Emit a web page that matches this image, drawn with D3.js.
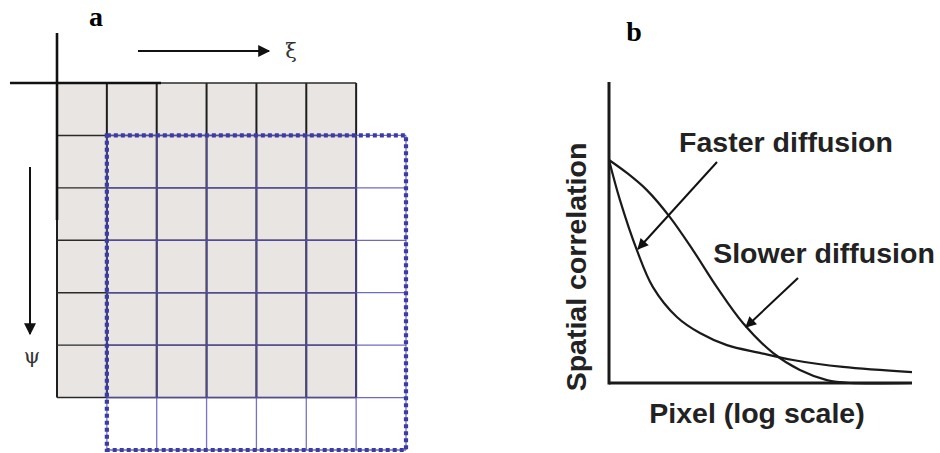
<!DOCTYPE html>
<html>
<head>
<meta charset="utf-8">
<script src="https://cdn.jsdelivr.net/npm/d3@7"></script>
<style>
  html, body { margin: 0; padding: 0; background: #fff; }
  svg { display: block; }
</style>
</head>
<body>
<svg id="fig" width="940" height="453"></svg>
<script>
// Panel a: 6x6 window of pixels and the same window shifted by one pixel in ξ and ψ
const gridCols = [0, 1, 2, 3, 4, 5];
const gridRows = [0, 1, 2, 3, 4, 5];
const shift = { xi: 1, psi: 1 };

// Panel b: spatial correlation versus pixel lag (log scale, normalised axis)
const lagFaster   = [0, 0.036, 0.092, 0.145, 0.224, 0.300, 0.389, 0.498, 0.607, 0.772, 1.0];
const corrFaster  = [1.0, 0.821, 0.596, 0.430, 0.296, 0.224, 0.170, 0.135, 0.103, 0.072, 0.049];
const lagSlower   = [0, 0.059, 0.125, 0.201, 0.277, 0.356, 0.442, 0.541, 0.630, 0.719, 0.795, 1.0];
const corrSlower  = [1.0, 0.942, 0.865, 0.744, 0.596, 0.430, 0.269, 0.135, 0.058, 0.013, 0.0, 0.0];
const curveLabels = ["Faster diffusion", "Slower diffusion"];
const axisTitles  = { x: "Pixel (log scale)", y: "Spatial correlation" };

const svg = d3.select("#fig");

const defs = svg.append("defs");
function arrowMarker(id, w, h) {
  defs.append("marker")
    .attr("id", id).attr("viewBox", "0 0 10 10")
    .attr("refX", 9).attr("refY", 5)
    .attr("markerWidth", w).attr("markerHeight", h)
    .attr("markerUnits", "userSpaceOnUse")
    .attr("orient", "auto")
    .append("path").attr("d", "M0,0 L10,5 L0,10 Z").attr("fill", "#111");
}
arrowMarker("headA", 14, 12);
arrowMarker("headB", 13, 11);

// ---------- Panel a ----------
const gA = svg.append("g");
const cx = d3.scaleLinear().domain([0, 7]).range([57, 406]);
const cy = d3.scaleLinear().domain([0, 7]).range([83, 450]);
const n = gridCols.length;

// shaded pixels
gA.selectAll("rect.cell")
  .data(d3.cross(gridCols, gridRows))
  .join("rect")
  .attr("x", d => cx(d[0])).attr("y", d => cy(d[1]))
  .attr("width", cx(1) - cx(0)).attr("height", cy(1) - cy(0))
  .attr("fill", "#e9e5e2");

// black grid of the original window
const vIdx = d3.range(n + 1), hIdx = d3.range(n + 1);
gA.selectAll("line.bv").data(vIdx).join("line")
  .attr("x1", d => cx(d)).attr("x2", d => cx(d))
  .attr("y1", cy(0)).attr("y2", cy(n))
  .attr("stroke", "#1e1e1e").attr("stroke-width", 2);
gA.selectAll("line.bh").data(hIdx).join("line")
  .attr("y1", d => cy(d)).attr("y2", d => cy(d))
  .attr("x1", cx(0)).attr("x2", cx(n))
  .attr("stroke", "#2a2a2a").attr("stroke-width", 1.4);

// blue grid of the shifted window
gA.selectAll("line.uv").data(vIdx).join("line")
  .attr("x1", d => cx(d + shift.xi)).attr("x2", d => cx(d + shift.xi))
  .attr("y1", cy(shift.psi)).attr("y2", cy(n + shift.psi))
  .attr("stroke", "#5550b8").attr("stroke-width", 1.3).attr("stroke-opacity", 0.8);
gA.selectAll("line.uh").data(hIdx).join("line")
  .attr("y1", d => cy(d + shift.psi)).attr("y2", d => cy(d + shift.psi))
  .attr("x1", cx(shift.xi)).attr("x2", cx(n + shift.xi))
  .attr("stroke", "#5550b8").attr("stroke-width", 1.3).attr("stroke-opacity", 0.85);

// dotted outline of the shifted window
gA.append("rect")
  .attr("x", cx(shift.xi)).attr("y", cy(shift.psi))
  .attr("width", cx(n + shift.xi) - cx(shift.xi))
  .attr("height", cy(n + shift.psi) - cy(shift.psi))
  .attr("fill", "none").attr("stroke", "#3c3ca6")
  .attr("stroke-width", 4.2).attr("stroke-dasharray", "4,3");

// origin cross-hair
gA.append("line").attr("x1", cx(0)).attr("x2", cx(0)).attr("y1", 33).attr("y2", 220)
  .attr("stroke", "#111").attr("stroke-width", 2.6);
gA.append("line").attr("x1", 10).attr("x2", 161).attr("y1", cy(0)).attr("y2", cy(0))
  .attr("stroke", "#111").attr("stroke-width", 2.6);

// direction arrows
gA.append("line").attr("x1", 138).attr("x2", 269).attr("y1", 51).attr("y2", 51)
  .attr("stroke", "#111").attr("stroke-width", 2).attr("marker-end", "url(#headA)");
gA.append("line").attr("x1", 30).attr("x2", 30).attr("y1", 167).attr("y2", 334)
  .attr("stroke", "#111").attr("stroke-width", 2).attr("marker-end", "url(#headA)");

gA.append("text").attr("x", 291).attr("y", 58).attr("text-anchor", "middle")
  .attr("font-family", "DejaVu Serif, serif").attr("font-size", 21).attr("fill", "#333").text("ξ");
gA.append("text").attr("x", 32).attr("y", 363).attr("text-anchor", "middle")
  .attr("font-family", "DejaVu Serif, serif").attr("font-size", 21).attr("fill", "#333").text("ψ");
gA.append("text").attr("x", 96).attr("y", 26).attr("text-anchor", "middle")
  .attr("font-family", "Liberation Serif, Times New Roman, serif").attr("font-weight", "bold")
  .attr("font-size", 28).attr("fill", "#000").text("a");

// ---------- Panel b ----------
const gB = svg.append("g");
const x = d3.scaleLinear().domain([0, 1]).range([609, 912]);
const y = d3.scaleLinear().domain([0, 1]).range([383, 160]);
const yTop = 1.35;

const line = d3.line().x(d => x(d[0])).y(d => y(d[1])).curve(d3.curveCatmullRom.alpha(0.5));
gB.append("path").datum(d3.zip(lagFaster, corrFaster)).attr("d", line)
  .attr("fill", "none").attr("stroke", "#1a1a1a").attr("stroke-width", 2.2);
gB.append("path").datum(d3.zip(lagSlower, corrSlower)).attr("d", line)
  .attr("fill", "none").attr("stroke", "#1a1a1a").attr("stroke-width", 2.2);

// axes
gB.append("line").attr("x1", x(0)).attr("x2", x(0)).attr("y1", y(0) + 1.5).attr("y2", y(yTop))
  .attr("stroke", "#1a1a1a").attr("stroke-width", 3);
gB.append("line").attr("x1", x(0)).attr("x2", x(1)).attr("y1", y(0)).attr("y2", y(0))
  .attr("stroke", "#1a1a1a").attr("stroke-width", 3.2);

const labelFont = "Liberation Sans, Arial, sans-serif";
gB.append("text").attr("x", 786).attr("y", 152).attr("text-anchor", "middle")
  .attr("font-family", labelFont).attr("font-weight", "bold").attr("font-size", 28.5)
  .attr("fill", "#222").text(curveLabels[0]);
gB.append("text").attr("x", 824).attr("y", 263).attr("text-anchor", "middle")
  .attr("font-family", labelFont).attr("font-weight", "bold").attr("font-size", 28.5)
  .attr("fill", "#222").text(curveLabels[1]);

gB.append("line").attr("x1", 717).attr("y1", 162).attr("x2", 638).attr("y2", 249)
  .attr("stroke", "#111").attr("stroke-width", 2).attr("marker-end", "url(#headB)");
gB.append("line").attr("x1", 798).attr("y1", 278).attr("x2", 746).attr("y2", 327)
  .attr("stroke", "#111").attr("stroke-width", 2).attr("marker-end", "url(#headB)");

gB.append("text").attr("x", 757).attr("y", 423).attr("text-anchor", "middle")
  .attr("font-family", labelFont).attr("font-weight", "bold").attr("font-size", 28.5)
  .attr("fill", "#222").text(axisTitles.x);
gB.append("text").attr("transform", "translate(586,267) rotate(-90)").attr("text-anchor", "middle")
  .attr("font-family", labelFont).attr("font-weight", "bold").attr("font-size", 28.5)
  .attr("fill", "#222").text(axisTitles.y);

gB.append("text").attr("x", 634).attr("y", 41).attr("text-anchor", "middle")
  .attr("font-family", "Liberation Serif, Times New Roman, serif").attr("font-weight", "bold")
  .attr("font-size", 28).attr("fill", "#000").text("b");
</script>
</body>
</html>
